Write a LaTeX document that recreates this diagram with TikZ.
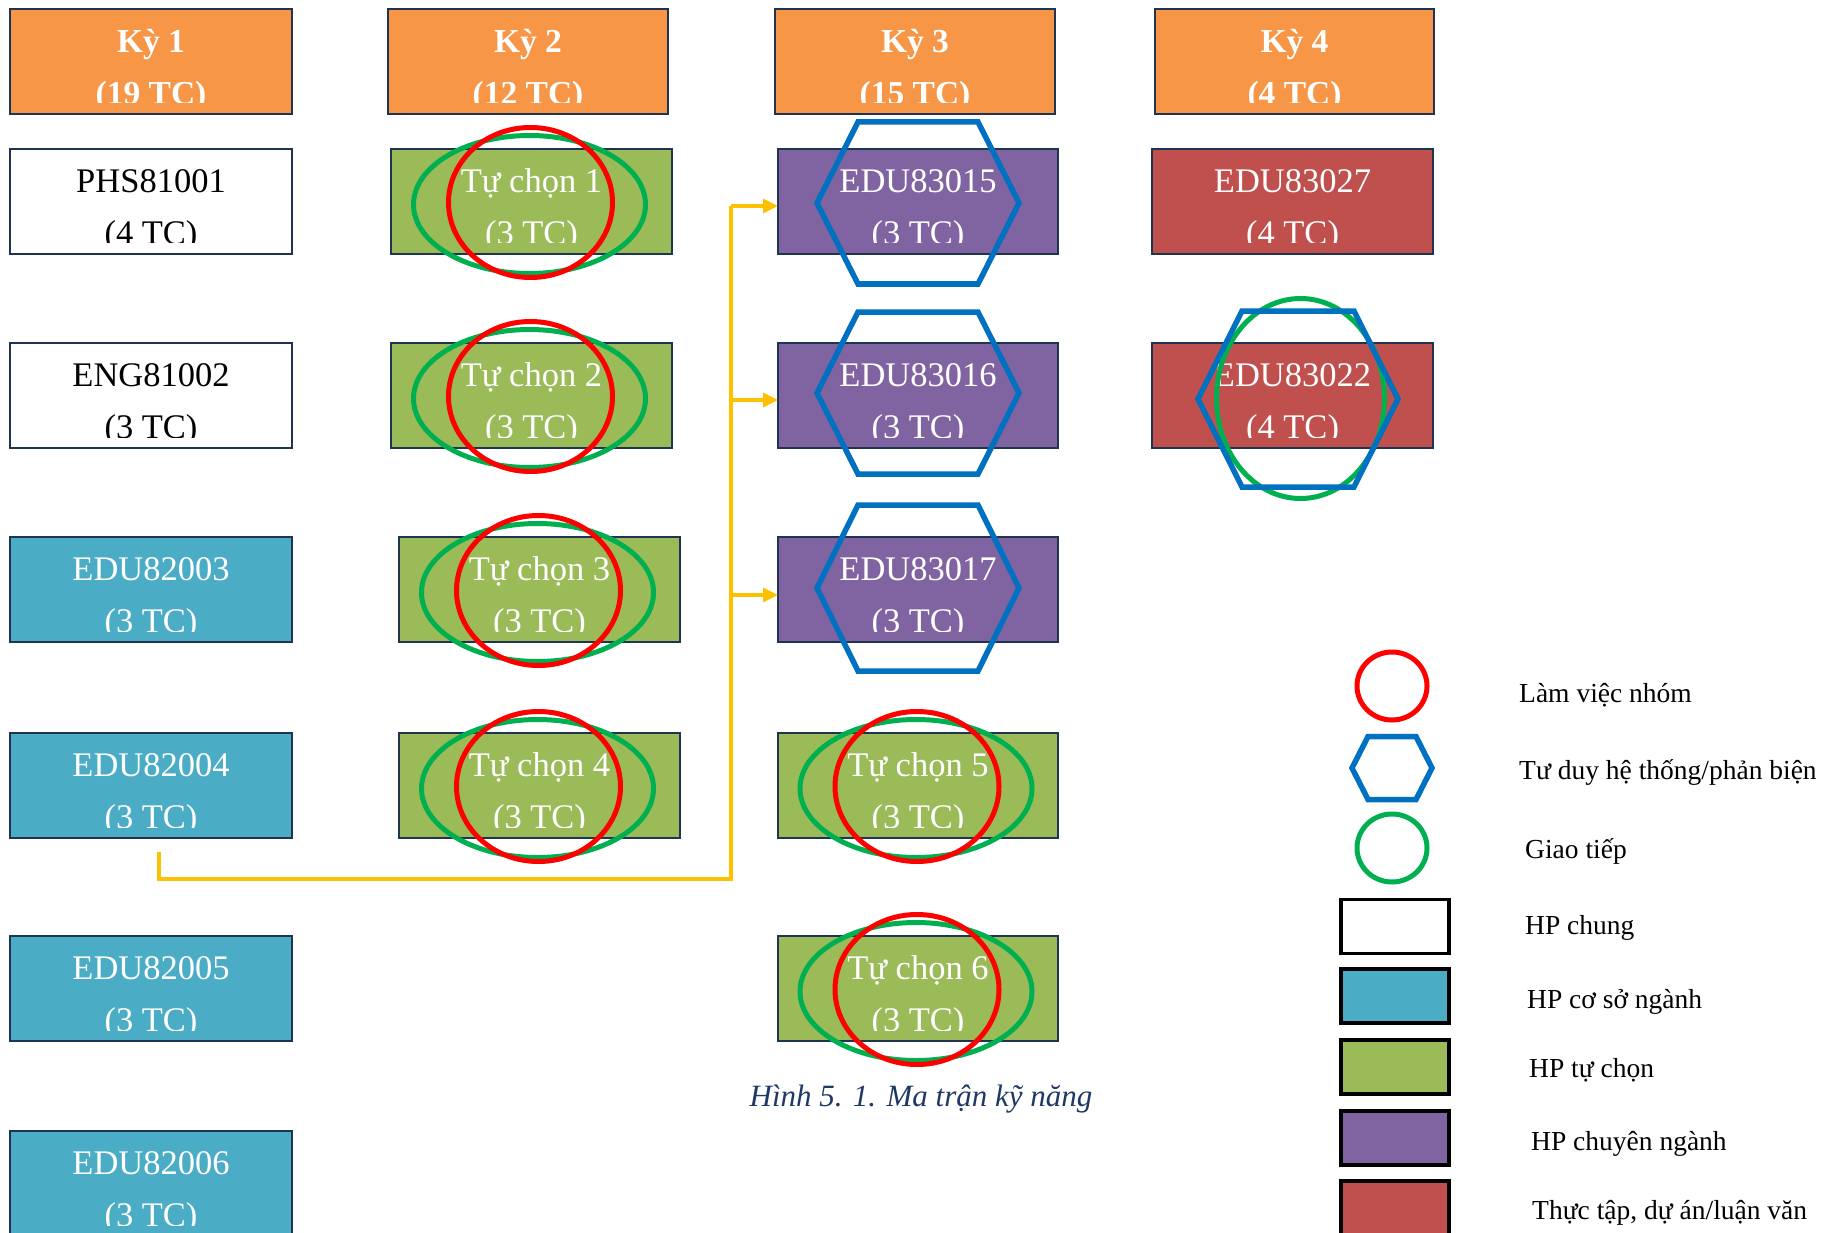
\documentclass[tikz,border=0pt]{standalone}
\usepackage{fontspec}
\setmainfont{Liberation Serif}
\usetikzlibrary{arrows.meta,calc}
\definecolor{hdrC}{HTML}{F79646}
\definecolor{baseC}{HTML}{4BACC6}
\definecolor{electC}{HTML}{9BBB59}
\definecolor{majorC}{HTML}{8064A2}
\definecolor{thesisC}{HTML}{C0504D}
\definecolor{edgeC}{HTML}{1F3450}
\definecolor{yelC}{HTML}{FFC000}
\definecolor{hexC}{HTML}{0070C0}
\definecolor{ellR}{HTML}{FF0000}
\definecolor{ellG}{HTML}{00B050}
\definecolor{capC}{HTML}{1F3864}
\tikzset{
  boxbase/.style={rectangle, draw=edgeC, line width=2.5pt, inner sep=0pt, outer sep=0pt},
  hdrbox/.style={boxbase, fill=hdrC},
  genbox/.style={boxbase, fill=white},
  basebox/.style={boxbase, fill=baseC},
  electbox/.style={boxbase, fill=electC},
  majorbox/.style={boxbase, fill=majorC},
  thesisbox/.style={boxbase, fill=thesisC},
  txtbase/.style={inner sep=0pt, font=\fontsize{34.5}{40}\selectfont},
  hdrtxt/.style={txtbase, text=white, font=\bfseries\fontsize{33.5}{40}\selectfont},
  gentxt/.style={txtbase, text=black},
  basetxt/.style={txtbase, text=white},
  electtxt/.style={txtbase, text=white},
  majortxt/.style={txtbase, text=white},
  thesistxt/.style={txtbase, text=white},
  grnline/.style={draw=ellG, line width=5pt},
  redline/.style={draw=ellR, line width=5pt},
  hexline/.style={draw=hexC, line width=5.5pt, line join=miter},
  yline/.style={draw=yelC, line width=3.5pt},
  legbox/.style={rectangle, draw=black, line width=3.5pt, inner sep=0pt, minimum width=108pt, minimum height=54pt},
  legtxt/.style={anchor=base west, inner sep=0pt, font=\fontsize{27.5}{33}\selectfont},
}
\newcommand{\crsbox}[8]{%
  \node[#6box, minimum width={(#4-#2)*1pt}, minimum height={(#5-#3)*1pt}] (#1) at ({(#2+#4)/2},{(#3+#5)/2}) {};
  \begin{scope}
    \clip (#2,#3) rectangle (#4,{#3+94});
    \node[#6txt, anchor=base] (#1-l1) at ({(#2+#4)/2},{#3+43.5}) {#7};
    \node[#6txt, anchor=base] (#1-l2) at ({(#2+#4)/2},{#3+95.5}) {#8};
  \end{scope}}
\newcommand{\skhex}[5]{%
  \draw[hexline] ({#1-#3},#2) -- ({#1-#4},{#2-#5}) -- ({#1+#4},{#2-#5}) -- ({#1+#3},#2) -- ({#1+#4},{#2+#5}) -- ({#1-#4},{#2+#5}) -- cycle;}
\newcommand{\skgr}[1]{%
  \draw[grnline] ($(#1)+(-2,3)$) ellipse [x radius=116pt, y radius=69pt];
  \draw[redline] ($(#1)+(-1,1)$) ellipse [x radius=82pt, y radius=75pt];}
\begin{document}
\begin{tikzpicture}[x=1pt,y=-1pt]
\useasboundingbox (0,0) rectangle (1841,1233);
\clip (0,0) rectangle (1841,1233);
% headers
\crsbox{h1}{10}{9}{292}{114}{hdr}{Kỳ 1}{(19 TC)}
\crsbox{h2}{388}{9}{668}{114}{hdr}{Kỳ 2}{(12 TC)}
\crsbox{h3}{775}{9}{1055}{114}{hdr}{Kỳ 3}{(15 TC)}
\crsbox{h4}{1155}{9}{1434}{114}{hdr}{Kỳ 4}{(4 TC)}
% column 1
\crsbox{phs}{10}{149}{292}{254}{gen}{PHS81001}{(4 TC)}
\crsbox{eng}{10}{343}{292}{448}{gen}{ENG81002}{(3 TC)}
\crsbox{e03}{10}{537}{292}{642}{base}{EDU82003}{(3 TC)}
\crsbox{e04}{10}{733}{292}{838}{base}{EDU82004}{(3 TC)}
\crsbox{e05}{10}{936}{292}{1041}{base}{EDU82005}{(3 TC)}
\crsbox{e06}{10}{1131}{292}{1236}{base}{EDU82006}{(3 TC)}
% column 2
\crsbox{tc1}{391}{149}{672}{254}{elect}{Tự chọn 1}{(3 TC)}
\crsbox{tc2}{391}{343}{672}{448}{elect}{Tự chọn 2}{(3 TC)}
\crsbox{tc3}{399}{537}{680}{642}{elect}{Tự chọn 3}{(3 TC)}
\crsbox{tc4}{399}{733}{680}{838}{elect}{Tự chọn 4}{(3 TC)}
% column 3
\crsbox{e15}{778}{149}{1058}{254}{major}{EDU83015}{(3 TC)}
\crsbox{e16}{778}{343}{1058}{448}{major}{EDU83016}{(3 TC)}
\crsbox{e17}{778}{537}{1058}{642}{major}{EDU83017}{(3 TC)}
\crsbox{tc5}{778}{733}{1058}{838}{elect}{Tự chọn 5}{(3 TC)}
\crsbox{tc6}{778}{936}{1058}{1041}{elect}{Tự chọn 6}{(3 TC)}
% column 4
\crsbox{e27}{1152}{149}{1433}{254}{thesis}{EDU83027}{(4 TC)}
\crsbox{e22}{1152}{343}{1433}{448}{thesis}{EDU83022}{(4 TC)}
% skill marks
\skgr{tc1}
\skgr{tc2}
\skgr{tc3}
\skgr{tc4}
\skgr{tc5}
\skgr{tc6}
\skhex{918}{203}{101}{60}{81}
\skhex{918}{393}{101}{60}{81}
\skhex{918}{588}{101}{60}{83}
\draw[grnline] ($(e22)+(8,3)$) ellipse [x radius=84pt, y radius=100pt];
\skhex{1298}{399}{100}{56}{88}
% connector
\coordinate (ys) at (159,852);
\coordinate (yc) at (731,879);
\coordinate (y1) at (731,206);
\coordinate (y2) at (731,400);
\coordinate (y3) at (731,595);
\draw[yline] (ys) |- (yc) -- (y1);
\draw[yline,-{Triangle[length=15pt,width=14pt]}] (y1) -- (y1 -| e15.west);
\draw[yline,-{Triangle[length=15pt,width=14pt]}] (y2) -- (y2 -| e16.west);
\draw[yline,-{Triangle[length=15pt,width=14pt]}] (y3) -- (y3 -| e17.west);
% caption
\node[anchor=base, inner sep=0pt, text=capC, font=\itshape\fontsize{31}{36}\selectfont] (cap) at (921,1106) {Hình 5. 1. Ma trận kỹ năng};
% legend
\draw[redline] (1392,686) ellipse [x radius=35pt, y radius=34pt];
\skhex{1392}{768}{40}{24}{31.5}
\draw[grnline] (1392,848) ellipse [x radius=35pt, y radius=34pt];
\node[legbox, fill=white] (lg1) at (1395,926.5) {};
\node[legbox, fill=baseC] (lg2) at (1395,996) {};
\node[legbox, fill=electC] (lg3) at (1395,1067) {};
\node[legbox, fill=majorC] (lg4) at (1395,1138) {};
\node[legbox, fill=thesisC, minimum height=70pt] (lg5) at (1395,1216) {};
\node[legtxt] (lt1) at (1519,702) {Làm việc nhóm};
\node[legtxt] (lt2) at (1519,779) {Tư duy hệ thống/phản biện};
\node[legtxt] (lt3) at (1525,858) {Giao tiếp};
\node[legtxt] (lt4) at (1525,934) {HP chung};
\node[legtxt] (lt5) at (1527,1008) {HP cơ sở ngành};
\node[legtxt] (lt6) at (1529,1077) {HP tự chọn};
\node[legtxt] (lt7) at (1531,1150) {HP chuyên ngành};
\node[legtxt] (lt8) at (1532,1219) {Thực tập, dự án/luận văn};
\end{tikzpicture}
\end{document}
